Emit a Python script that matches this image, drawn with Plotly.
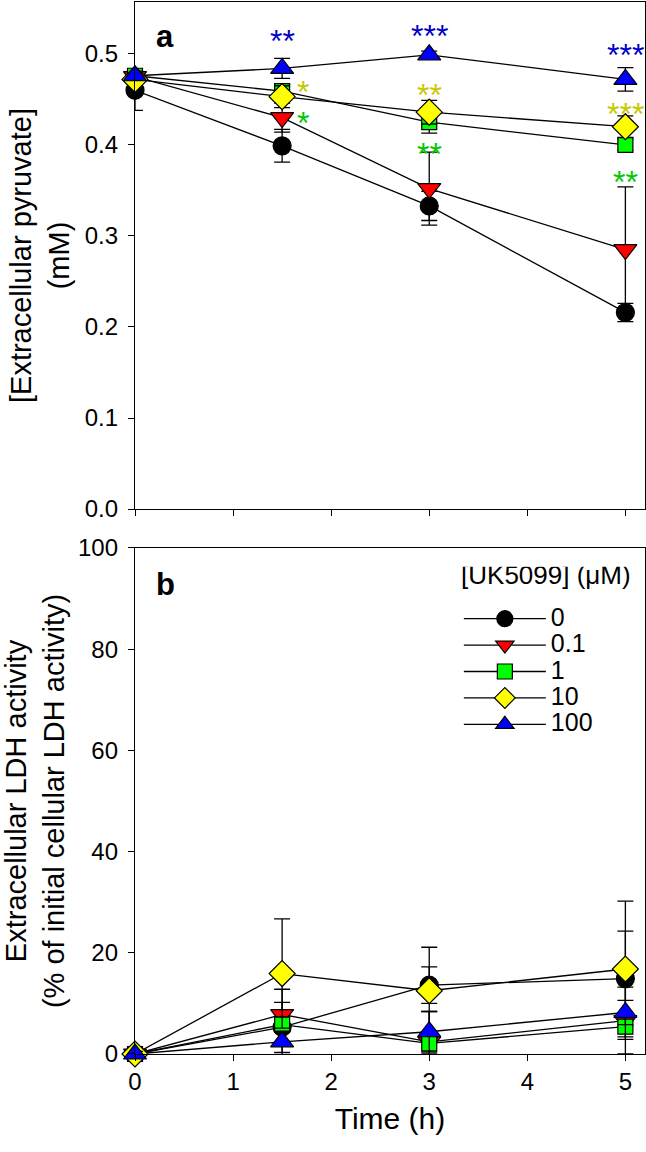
import plotly.graph_objects as go

# ---------------- data ----------------
time_h = [0, 1.5, 3, 5]
series_names = ["0", "0.1", "1", "10", "100"]

# panel a: extracellular pyruvate (mM)
pyr_0 = [0.460, 0.399, 0.333, 0.216]
pyr_01 = [0.475, 0.430, 0.352, 0.285]
pyr_1 = [0.476, 0.459, 0.425, 0.400]
pyr_10 = [0.472, 0.453, 0.436, 0.420]
pyr_100 = [0.476, 0.484, 0.499, 0.472]
pyr_0_err = [0.022, 0.018, 0.016, 0.010]
pyr_01_err = [0.005, 0.016, 0.040, 0.069]
pyr_1_err = [0.005, 0.008, 0.012, 0.006]
pyr_10_err = [0.005, 0.012, 0.013, 0.012]
pyr_100_err = [0.005, 0.011, 0.004, 0.013]

# panel b: extracellular LDH activity (% of initial cellular LDH activity)
ldh_0 = [0, 5.3, 13.6, 14.9]
ldh_01 = [0, 7.8, 2.4, 6.6]
ldh_1 = [0, 5.8, 2.1, 5.4]
ldh_10 = [0, 15.9, 12.5, 16.8]
ldh_100 = [0, 2.4, 4.4, 8.2]
ldh_0_err = [0.5, 7.5, 3.6, 9.4]
ldh_01_err = [0.5, 2.4, 6.0, 6.6]
ldh_1_err = [0.5, 1.5, 2.1, 2.5]
ldh_10_err = [0.5, 10.8, 8.6, 13.4]
ldh_100_err = [0.5, 2.1, 4.0, 2.4]

# significance stars (panel a)
star_x = [1.5, 3, 5, 1.71, 3, 5, 1.71, 3, 5]
star_y = [0.524, 0.530, 0.509, 0.468, 0.465, 0.444, 0.434, 0.400, 0.369]
star_text = ["**", "***", "***", "*", "**", "***", "*", "**", "**"]
star_group = ["100", "100", "100", "10", "10", "10", "1", "1", "1"]

x_ticks = [0, 1, 2, 3, 4, 5]
pyr_ticks = [0.0, 0.1, 0.2, 0.3, 0.4, 0.5]
ldh_ticks = [0, 20, 40, 60, 80, 100]

# ---------------- styles ----------------
fills = {"0": "#000000", "0.1": "#FF0000", "1": "#00FF00", "10": "#FFFF00", "100": "#0000FF"}
symbols = {"0": "circle", "0.1": "triangle-down", "1": "square", "10": "diamond", "100": "triangle-up"}
sizes = {"0": 18, "0.1": 20, "1": 15, "10": 20, "100": 20}
star_colors = {"100": "#0000C8", "10": "#C8C800", "1": "#00C800"}
FONT = "Arial, Liberation Sans, sans-serif"

pyr = dict(zip(series_names, [pyr_0, pyr_01, pyr_1, pyr_10, pyr_100]))
pyr_err = dict(zip(series_names, [pyr_0_err, pyr_01_err, pyr_1_err, pyr_10_err, pyr_100_err]))
ldh = dict(zip(series_names, [ldh_0, ldh_01, ldh_1, ldh_10, ldh_100]))
ldh_err = dict(zip(series_names, [ldh_0_err, ldh_01_err, ldh_1_err, ldh_10_err, ldh_100_err]))

fig = go.Figure()

# connecting lines first (beneath markers)
for xa, ya, data in [("x", "y", pyr), ("x2", "y2", ldh)]:
    for n in series_names:
        fig.add_trace(go.Scatter(x=time_h, y=data[n], mode="lines",
                                 line=dict(color="black", width=1.3),
                                 xaxis=xa, yaxis=ya, showlegend=False, hoverinfo="skip"))

# markers with error bars
for xa, ya, data, err in [("x", "y", pyr, pyr_err), ("x2", "y2", ldh, ldh_err)]:
    for n in series_names:
        fig.add_trace(go.Scatter(
            x=time_h, y=data[n], mode="markers",
            marker=dict(symbol=symbols[n], size=sizes[n], color=fills[n],
                        line=dict(color="black", width=1.2)),
            error_y=dict(type="data", array=err[n], color="black", thickness=1.3, width=8),
            xaxis=xa, yaxis=ya, showlegend=False, cliponaxis=False))

# legend-only traces
for n in series_names:
    fig.add_trace(go.Scatter(
        x=[None], y=[None], mode="lines+markers",
        name='<span style="font-size:25px">' + n + "</span>",
        line=dict(color="black", width=1.3),
        marker=dict(symbol=symbols[n], size=sizes[n], color=fills[n],
                    line=dict(color="black", width=1.2)),
        xaxis="x2", yaxis="y2", showlegend=True))

annotations = []
for sx, sy, st, sg in zip(star_x, star_y, star_text, star_group):
    annotations.append(dict(x=sx, y=sy, xref="x", yref="y", text=st, showarrow=False,
                            yshift=-9, font=dict(family=FONT, size=32, color=star_colors[sg])))
annotations.append(dict(x=0.037, y=0.970, xref="x domain", yref="y domain", text="<b>a</b>",
                        showarrow=False, font=dict(family=FONT, size=31, color="black")))
annotations.append(dict(x=0.037, y=0.967, xref="x2 domain", yref="y2 domain", text="<b>b</b>",
                        showarrow=False, font=dict(family=FONT, size=31, color="black")))

axis_common = dict(showline=True, linecolor="black", linewidth=1.3, mirror=True,
                   ticks="outside", ticklen=6, tickwidth=1.3, tickcolor="black",
                   showgrid=False, zeroline=False, automargin=False,
                   tickfont=dict(family=FONT, size=24, color="black"))

fig.update_layout(
    width=646, height=1152,
    margin=dict(l=135, r=1, t=2, b=98, autoexpand=False),
    paper_bgcolor="white", plot_bgcolor="white",
    font=dict(family=FONT, color="black"),
    xaxis=dict(domain=[0, 1], anchor="y", range=[0, 5.2], tickvals=x_ticks,
               showticklabels=False, **axis_common),
    yaxis=dict(domain=[0.518, 1], anchor="x", range=[0, 0.557], tickvals=pyr_ticks,
               tickformat=".1f", ticklabelstandoff=5,
               title=dict(text="[Extracellular pyruvate]<br>(mM)", standoff=6,
                          font=dict(family=FONT, size=29, color="black")),
               **axis_common),
    xaxis2=dict(domain=[0, 1], anchor="y2", range=[0, 5.2], tickvals=x_ticks,
                title=dict(text="Time (h)", standoff=14,
                           font=dict(family=FONT, size=30, color="black")),
                **axis_common),
    yaxis2=dict(domain=[0, 0.481], anchor="x2", range=[0, 100], tickvals=ldh_ticks,
                ticklabelstandoff=5,
                title=dict(text="Extracellular LDH activity<br>(% of initial cellular LDH activity)",
                           standoff=6, font=dict(family=FONT, size=29, color="black")),
                **axis_common),
    legend=dict(x=0.635, y=0.4632, xanchor="left", yanchor="top",
                bgcolor="rgba(0,0,0,0)", borderwidth=0,
                font=dict(family=FONT, size=18, color="black"),
                title=dict(text='<span style="font-size:26px">[UK5099] (μM)</span><br>&nbsp;',
                           side="top center",
                           font=dict(family=FONT, size=13, color="black")),
                tracegroupgap=0, itemwidth=82),
    annotations=annotations,
    showlegend=True,
)

fig.write_html("out.html", config={"displayModeBar": False},
               post_script="document.body.style.margin='0px';document.body.style.overflow='hidden';")
